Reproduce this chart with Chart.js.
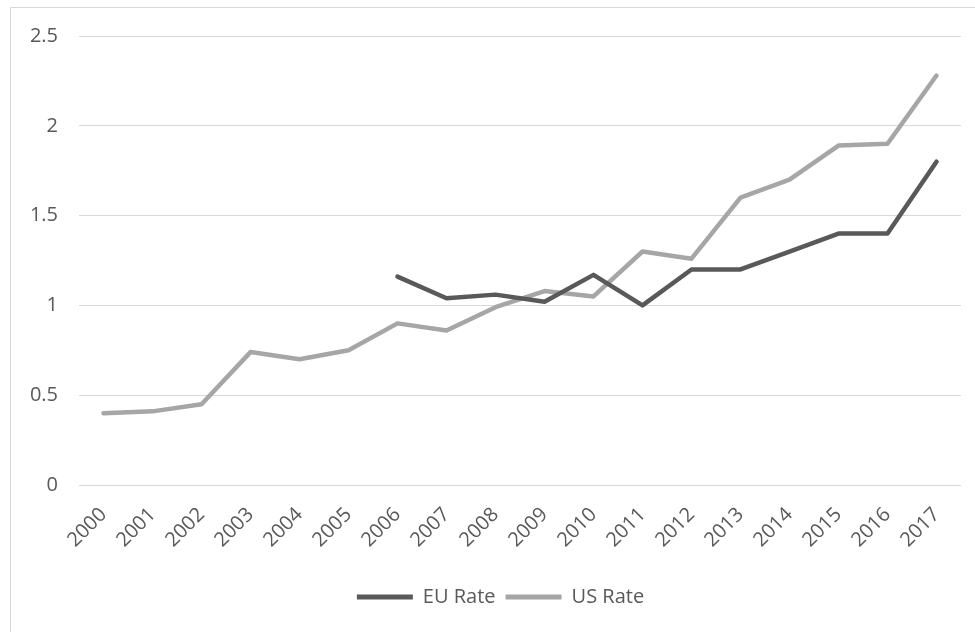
<!DOCTYPE html>
<html>
<head>
<meta charset="utf-8">
<script src="https://cdn.jsdelivr.net/npm/chart.js@4/dist/chart.umd.min.js"></script>
<style>
  html, body { margin: 0; padding: 0; background: #fff; overflow: hidden; }
  #frame { position: absolute; left: 10px; top: 7px; width: 1000px; height: 700px; border: 1px solid #d9d9d9; }
  #wrap { position: absolute; left: 0; top: 0; width: 975px; height: 632px; }
</style>
</head>
<body>
<div id="frame"></div>
<div id="wrap"><canvas id="myChart"></canvas></div>
<script>
// data
const years = ["2000", "2001", "2002", "2003", "2004", "2005", "2006", "2007", "2008",
  "2009", "2010", "2011", "2012", "2013", "2014", "2015", "2016", "2017"];
const euRate = [null, null, null, null, null, null, 1.16, 1.04, 1.06,
  1.02, 1.17, 1.0, 1.2, 1.2, 1.3, 1.4, 1.4, 1.8];
const usRate = [0.4, 0.41, 0.45, 0.74, 0.7, 0.75, 0.9, 0.86, 0.99,
  1.08, 1.05, 1.3, 1.26, 1.6, 1.7, 1.89, 1.9, 2.28];

const textColor = "#595959";
const gridColor = "#d9d9d9";

Chart.defaults.font.family = "'Open Sans', sans-serif";
Chart.defaults.font.size = 20;
Chart.defaults.color = textColor;

// excel centres the legend in its frame, a bit right of the chart's middle
const legendShift = {
  id: "legendShift",
  afterLayout(chart) {
    chart.legend.left += 20;
    chart.legend.right += 20;
  },
};

const data = {
  labels: years,
  datasets: [
    {
      label: "EU Rate",
      data: euRate,
      borderColor: "#595959",
      backgroundColor: "#595959",
    },
    {
      label: "US Rate",
      data: usRate,
      borderColor: "#a6a6a6",
      backgroundColor: "#a6a6a6",
    },
  ],
};

const config = {
  type: "line",
  data: data,
  plugins: [legendShift],
  options: {
    responsive: true,
    maintainAspectRatio: false,
    animation: false,
    borderWidth: 4.5,
    pointRadius: 0,
    pointHoverRadius: 0,
    tension: 0,
    borderJoinStyle: "round",
    borderCapStyle: "round",
    spanGaps: false,
    layout: { padding: { left: 0, right: 14, top: 36, bottom: 15 } },
    plugins: {
      tooltip: { enabled: false },
      legend: {
        position: "bottom",
        labels: {
          boxWidth: 56,
          boxHeight: 5,
          padding: 10,
          color: textColor,
          generateLabels: (chart) => {
            const items = Chart.defaults.plugins.legend.labels.generateLabels(chart);
            items.forEach((it) => { it.lineWidth = 0; });
            return items;
          },
        },
      },
    },
    scales: {
      x: {
        offset: true,
        grid: { display: false, drawTicks: false },
        border: { display: false },
        ticks: { minRotation: 45, maxRotation: 45, padding: 18, autoSkip: false },
        afterFit: (scale) => { scale.height = 92; },
      },
      y: {
        min: 0,
        max: 2.5,
        grid: { color: gridColor, lineWidth: 1, drawTicks: false },
        border: { display: false },
        ticks: { stepSize: 0.5, padding: 21, callback: (v) => String(Number(v)) },
        afterFit: (scale) => { scale.width = 79; },
      },
    },
  },
};

const myChart = new Chart(document.getElementById("myChart"), config);
</script>
</body>
</html>
